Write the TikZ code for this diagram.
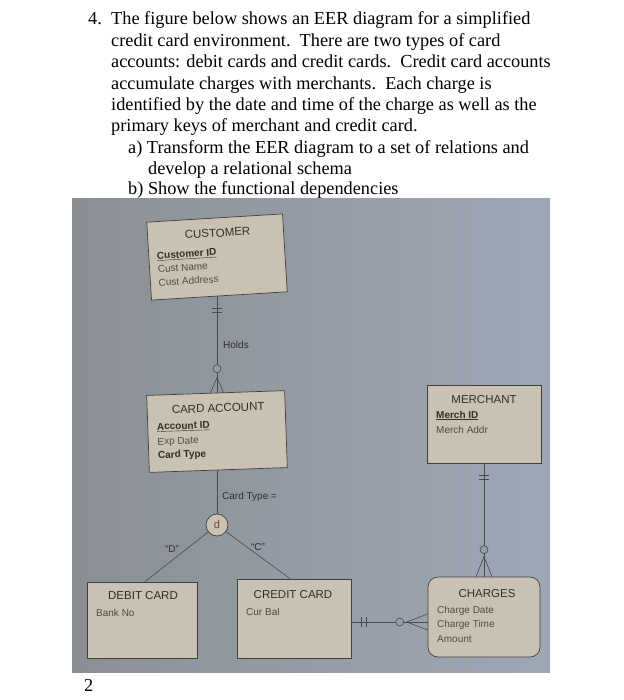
\documentclass[tikz,border=0pt]{standalone}
\usepackage{fontspec}
\setmainfont{Liberation Serif}
\newfontfamily\diag{Liberation Sans}
\usetikzlibrary{calc}
\definecolor{photobgL}{RGB}{138,143,148}
\definecolor{photobgR}{RGB}{158,168,181}
\definecolor{photobg}{RGB}{150,157,166}
\definecolor{boxfill}{RGB}{201,193,177}
\definecolor{boxline}{RGB}{66,64,62}
\definecolor{ink}{RGB}{50,46,42}
\definecolor{inklight}{RGB}{78,75,71}
\definecolor{wire}{RGB}{72,74,80}
\begin{document}
\begin{tikzpicture}[x=1pt,y=-1pt,
  para/.style={anchor=base west, inner sep=0pt, font=\fontsize{18.3}{20}\selectfont},
  entity/.style={draw=boxline, fill=boxfill, line width=0.7pt, inner sep=0pt},
  etitle/.style={anchor=base, inner sep=0pt, text=ink, font=\diag\fontsize{11.5}{12}\selectfont},
  attr/.style={anchor=base west, inner sep=0pt, text=inklight, font=\diag\fontsize{10}{11}\selectfont},
  keyattr/.style={anchor=base west, inner sep=0pt, text=ink, font=\diag\bfseries\fontsize{10}{11}\selectfont},
  wire/.style={draw=wire, line width=0.6pt},
  lbl/.style={inner sep=0pt, text=ink, font=\diag\fontsize{10}{11}\selectfont},
]
\useasboundingbox (0,0) rectangle (623,700);

% question text
\node[para] (l1) at (88,25) {4.};
\node[para] (l1b) at (111,25) {The figure below shows an EER diagram for a simplified};
\node[para] (l2) at (111,46.5) {credit card environment.\ \ There are two types of card};
\node[para] (l3) at (111,68) {accounts: debit cards and credit cards.\ \ Credit card accounts};
\node[para] (l4) at (111,89.5) {accumulate charges with merchants.\ \ Each charge is};
\node[para] (l5) at (111,111) {identified by the date and time of the charge as well as the};
\node[para] (l6) at (111,132) {primary keys of merchant and credit card.};
\node[para] (l7) at (128,153.5) {a) Transform the EER diagram to a set of relations and};
\node[para] (l8) at (148,174.5) {develop a relational schema};
\node[para] (l9) at (128,195) {b) Show the functional dependencies};

% photo background
\shade[left color=photobgL, right color=photobgR] (72,199) rectangle (550,672);

% entities
\begin{scope}[rotate around={3.5:(217,257)}]
\node[entity, rotate=3.5, minimum width=136pt, minimum height=78pt] (cust) at (217,257) {};
\node[etitle, rotate=3.5] (custT) at (219,237) {CUSTOMER};
\node[keyattr, rotate=3.5] (custA1) at (157,255.5) {\underline{Customer ID}};
\node[attr, rotate=3.5] (custA2) at (157,269) {Cust Name};
\node[attr, rotate=3.5] (custA3) at (157,282.5) {Cust Address};
\end{scope}

\begin{scope}[rotate around={2:(217,431.5)}]
\node[entity, rotate=2, minimum width=138pt, minimum height=77pt] (cardacc) at (217,431.5) {};
\node[etitle, rotate=2] (caT) at (219,412) {CARD ACCOUNT};
\node[keyattr, rotate=2] (caA1) at (157,428) {\underline{Account ID}};
\node[attr, rotate=2] (caA2) at (157,443) {Exp Date};
\node[keyattr, rotate=2] (caA3) at (157,456.5) {Card Type};
\end{scope}

\node[entity, minimum width=114pt, minimum height=78pt] (merch) at (484,424) {};
\node[etitle] (mT) at (484,403) {MERCHANT};
\node[keyattr] (mA1) at (436,418) {\underline{Merch ID}};
\node[attr] (mA2) at (436,433) {Merch Addr};

\node[entity, minimum width=110pt, minimum height=76pt] (debit) at (142,620) {};
\node[etitle] (dT) at (143,599) {DEBIT CARD};
\node[attr] (dA1) at (96,616) {Bank No};

\node[entity, minimum width=114pt, minimum height=79pt] (credit) at (294,618.5) {};
\node[etitle] (crT) at (293,598) {CREDIT CARD};
\node[attr] (crA1) at (246,615) {Cur Bal};

\node[entity, rounded corners=10pt, minimum width=112pt, minimum height=80pt] (charges) at (484,617) {};
\node[etitle] (chT) at (487,597) {CHARGES};
\node[attr] (chA1) at (437,613) {Charge Date};
\node[attr] (chA2) at (437,627.5) {Charge Time};
\node[attr] (chA3) at (437,642) {Amount};

% disjoint circle
\node[circle, draw=boxline, fill=boxfill, line width=0.7pt, minimum size=22pt, inner sep=0pt, text={rgb,255:red,110;green,70;blue,55}, font=\diag\fontsize{11}{12}\selectfont] (dc) at (217,525) {d};

% CUSTOMER -- CARD ACCOUNT (Holds)
\coordinate (hx) at (217,0);
\draw[wire] (cust.south -| hx) -- (cardacc.north -| hx);
\draw[wire] ($(hx |- cust.south)+(-5,12)$) -- ++(10,0);
\draw[wire] ($(hx |- cust.south)+(-5,16)$) -- ++(10,0);
\draw[wire, fill=photobg] ($(hx |- cardacc.north)+(0,-24)$) circle[radius=4pt];
\draw[wire] ($(hx |- cardacc.north)+(-6.5,0)$) -- ($(hx |- cardacc.north)+(0,-15)$) -- ($(hx |- cardacc.north)+(6.5,0)$);
\node[lbl, anchor=base west] (holds) at (223,348) {Holds};

% CARD ACCOUNT -- d -- subtypes
\draw[wire] (cardacc.south -| hx) -- (dc.north);
\node[lbl, anchor=base west] (ctype) at (222,499) {Card Type =};
\draw[wire] (dc) -- ($(debit.north)+(3,0)$);
\draw[wire] (dc) -- ($(credit.north)+(-4,0)$);
\node[lbl] (lD) at (172,549) {“D”};
\node[lbl] (lC) at (258,547) {“C”};

% MERCHANT -- CHARGES
\draw[wire] (merch.south) -- (charges.north);
\draw[wire] ($(merch.south)+(-5,12)$) -- ++(10,0);
\draw[wire] ($(merch.south)+(-5,16)$) -- ++(10,0);
\draw[wire, fill=photobg] ($(charges.north)+(0,-27)$) circle[radius=4pt];
\draw[wire] ($(charges.north)+(-8,0)$) -- ($(charges.north)+(0,-20)$) -- ($(charges.north)+(8,0)$);

% CREDIT CARD -- CHARGES
\coordinate (ccy) at (0,622);
\draw[wire] (credit.east |- ccy) -- (charges.west |- ccy);
\draw[wire] ($(credit.east |- ccy)+(10,-5)$) -- ++(0,10);
\draw[wire] ($(credit.east |- ccy)+(15,-5)$) -- ++(0,10);
\draw[wire, fill=photobg] ($(charges.west |- ccy)+(-28,0)$) circle[radius=4pt];
\draw[wire] ($(charges.west |- ccy)+(0,-8)$) -- ($(charges.west |- ccy)+(-21,0)$) -- ($(charges.west |- ccy)+(0,8)$);

% page number
\node[para] (pg) at (84,691) {2};
\end{tikzpicture}
\end{document}
